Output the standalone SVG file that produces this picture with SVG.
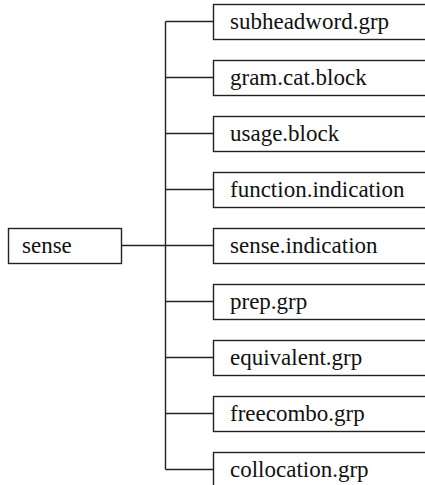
<svg xmlns="http://www.w3.org/2000/svg" width="425" height="485" viewBox="0 0 425 485">
<style>
rect{fill:#fff;stroke:#222;stroke-width:1.4}
text{font-family:"Liberation Serif","Times New Roman",serif;font-size:23px;fill:#111}
.c{fill:none;stroke:#222;stroke-width:1.4}
</style>
<rect x="0" y="0" width="425" height="485" style="stroke:none"/>
<g id="connectors" class="c">
<path class="c" d="M121.5 245.5H213.5M165.5 21.5V469.5M165.5 21.5H213.5M165.5 77.5H213.5M165.5 133.5H213.5M165.5 189.5H213.5M165.5 301.5H213.5M165.5 357.5H213.5M165.5 413.5H213.5M165.5 469.5H213.5"/>
</g>
<g id="sense"><rect x="8.5" y="228.5" width="113" height="35"/><text x="22" y="253">sense</text></g>
<g id="subheadword"><rect x="213.5" y="4.5" width="220" height="35"/><text x="230" y="29">subheadword.grp</text></g>
<g id="gramcat"><rect x="213.5" y="60.5" width="220" height="35"/><text x="230" y="85">gram.cat.block</text></g>
<g id="usage"><rect x="213.5" y="116.5" width="220" height="35"/><text x="230" y="141">usage.block</text></g>
<g id="function"><rect x="213.5" y="172.5" width="220" height="35"/><text x="230" y="197">function.indication</text></g>
<g id="senseind"><rect x="213.5" y="228.5" width="220" height="35"/><text x="230" y="253">sense.indication</text></g>
<g id="prep"><rect x="213.5" y="284.5" width="220" height="35"/><text x="230" y="309">prep.grp</text></g>
<g id="equivalent"><rect x="213.5" y="340.5" width="220" height="35"/><text x="230" y="365">equivalent.grp</text></g>
<g id="freecombo"><rect x="213.5" y="396.5" width="220" height="35"/><text x="230" y="421">freecombo.grp</text></g>
<g id="collocation"><rect x="213.5" y="452.5" width="220" height="35"/><text x="230" y="477">collocation.grp</text></g>
</svg>
